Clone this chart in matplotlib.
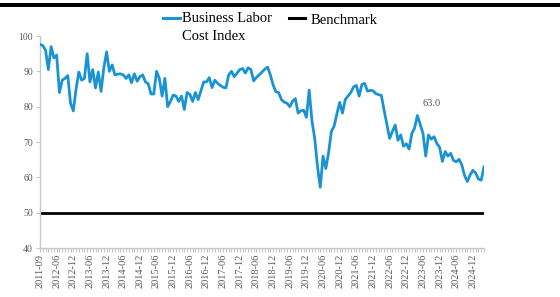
import numpy as np
import matplotlib
matplotlib.use('Agg')
import matplotlib.pyplot as plt
from matplotlib.lines import Line2D
from matplotlib.patches import Rectangle

# ── Data ─────────────────────────────────────────────────────────
labor_cost = [
    97.6, 97.3, 96.0, 90.5, 97.0, 93.8, 94.6, 84.0, 87.5, 88.0,
    88.8, 81.0, 78.8, 85.0, 89.8, 87.5, 88.0, 95.0, 87.0, 90.5,
    85.3, 89.8, 84.3, 91.0, 95.5, 90.0, 91.8, 89.0, 89.2, 89.3,
    89.0, 88.0, 89.0, 86.8, 89.3, 87.2, 88.5, 89.0, 87.0, 86.5,
    83.6, 83.6, 90.0, 88.0, 83.0, 88.0, 80.0, 81.5, 83.3, 83.0,
    81.5, 83.0, 79.2, 84.0, 83.5, 81.5, 84.0, 82.0, 84.5, 87.0,
    87.0, 88.2, 85.4, 87.5, 86.6, 86.0, 85.5, 85.3, 89.0, 90.0,
    88.5, 89.5, 90.5, 90.8, 89.5, 91.0, 90.5, 87.3, 88.3, 89.0,
    89.8, 90.6, 91.2, 89.0, 86.2, 84.2, 84.0, 82.0, 81.3, 81.0,
    80.0, 81.5, 82.3, 78.2, 78.8, 79.0, 77.0, 84.7, 76.0, 71.0,
    63.0, 57.2, 66.0, 62.5, 67.0, 73.0, 74.5, 78.0, 81.2, 78.2,
    82.0, 83.0, 84.0, 85.6, 86.0, 83.0, 86.3, 86.6, 84.4, 84.6,
    84.5, 83.7, 83.4, 83.2, 79.0, 75.0, 71.0, 73.0, 74.8, 70.5,
    72.0, 68.8, 69.5, 68.0, 72.4, 74.0, 77.5, 75.0, 72.5, 66.0,
    72.0, 70.8, 71.5, 69.6, 68.5, 64.5, 67.3, 66.0, 66.8, 64.8,
    64.4, 65.1, 63.5, 60.5, 58.8, 60.7, 62.0, 61.2, 59.5, 59.2,
    63.0,
]
benchmark_level = 50

tick_labels = ['2011-09'] + [f'{y}-{m}' for y in range(2012, 2025) for m in ('06', '12')]

# ── Style ────────────────────────────────────────────────────────
C_LINE = '#1a93d5'
C_AXIS = '#c8c8c8'
C_TICK = '#5a5a5a'
SERIF = ['Liberation Serif', 'DejaVu Serif']

n = len(labor_cost)
x = np.arange(n)

fig = plt.figure(figsize=(5.6, 2.97), dpi=100, facecolor='white')
ax = fig.add_axes([40 / 560, 1 - 248 / 297, 444 / 560, 212 / 297])

ax.plot(x, labor_cost, color=C_LINE, lw=2.0, solid_joinstyle='round', zorder=3)
ax.plot([0, n - 1], [benchmark_level] * 2, color='black', lw=2.0, zorder=2)

ax.annotate(f'{labor_cost[-1]:.1f}', (x[-1], labor_cost[-1]),
            xytext=(-52, 63), textcoords='offset pixels',
            ha='center', va='center', fontsize=7.5, color='#555555', family=SERIF)

ax.set_xlim(0, n - 1)
ax.set_ylim(40, 100)
ax.set_yticks(range(40, 101, 10))
ax.set_xticks(x[::6][:len(tick_labels)])
ax.set_xticklabels(tick_labels, rotation=90, family=SERIF, fontsize=7.5, color=C_TICK)
ax.set_xticks(x, minor=True)
for lab in ax.get_yticklabels():
    lab.set_family(SERIF)
ax.tick_params(axis='y', labelsize=7, labelcolor=C_TICK, color=C_AXIS,
               length=3, width=0.8, pad=2)
ax.tick_params(axis='x', which='both', color=C_AXIS, length=3, width=0.8, pad=1)

for side in ('top', 'right'):
    ax.spines[side].set_visible(False)
for side in ('left', 'bottom'):
    ax.spines[side].set_color(C_AXIS)
    ax.spines[side].set_linewidth(1.0)

# ── Legend (drawn by hand to keep the two-line label layout) ─────
def fx(px):
    return px / 560

def fy(py):
    return 1 - py / 297

fig.add_artist(Line2D([fx(163), fx(180)], [fy(18), fy(18)], color=C_LINE, lw=2.2))
fig.text(fx(182), fy(19), 'Business Labor', ha='left', va='center',
         fontsize=10.5, family=SERIF, color='black')
fig.text(fx(182), fy(36), 'Cost Index', ha='left', va='center',
         fontsize=10.5, family=SERIF, color='black')
fig.add_artist(Line2D([fx(289), fx(305)], [fy(18), fy(18)], color='black', lw=2.2))
fig.text(fx(311), fy(20), 'Benchmark', ha='left', va='center',
         fontsize=10.5, family=SERIF, color='black')

# thick rule across the top
fig.add_artist(Rectangle((0, fy(7)), 1, 4 / 297, transform=fig.transFigure,
                         facecolor='black', edgecolor='none'))

fig.savefig('out.png', dpi=100, facecolor='white')
